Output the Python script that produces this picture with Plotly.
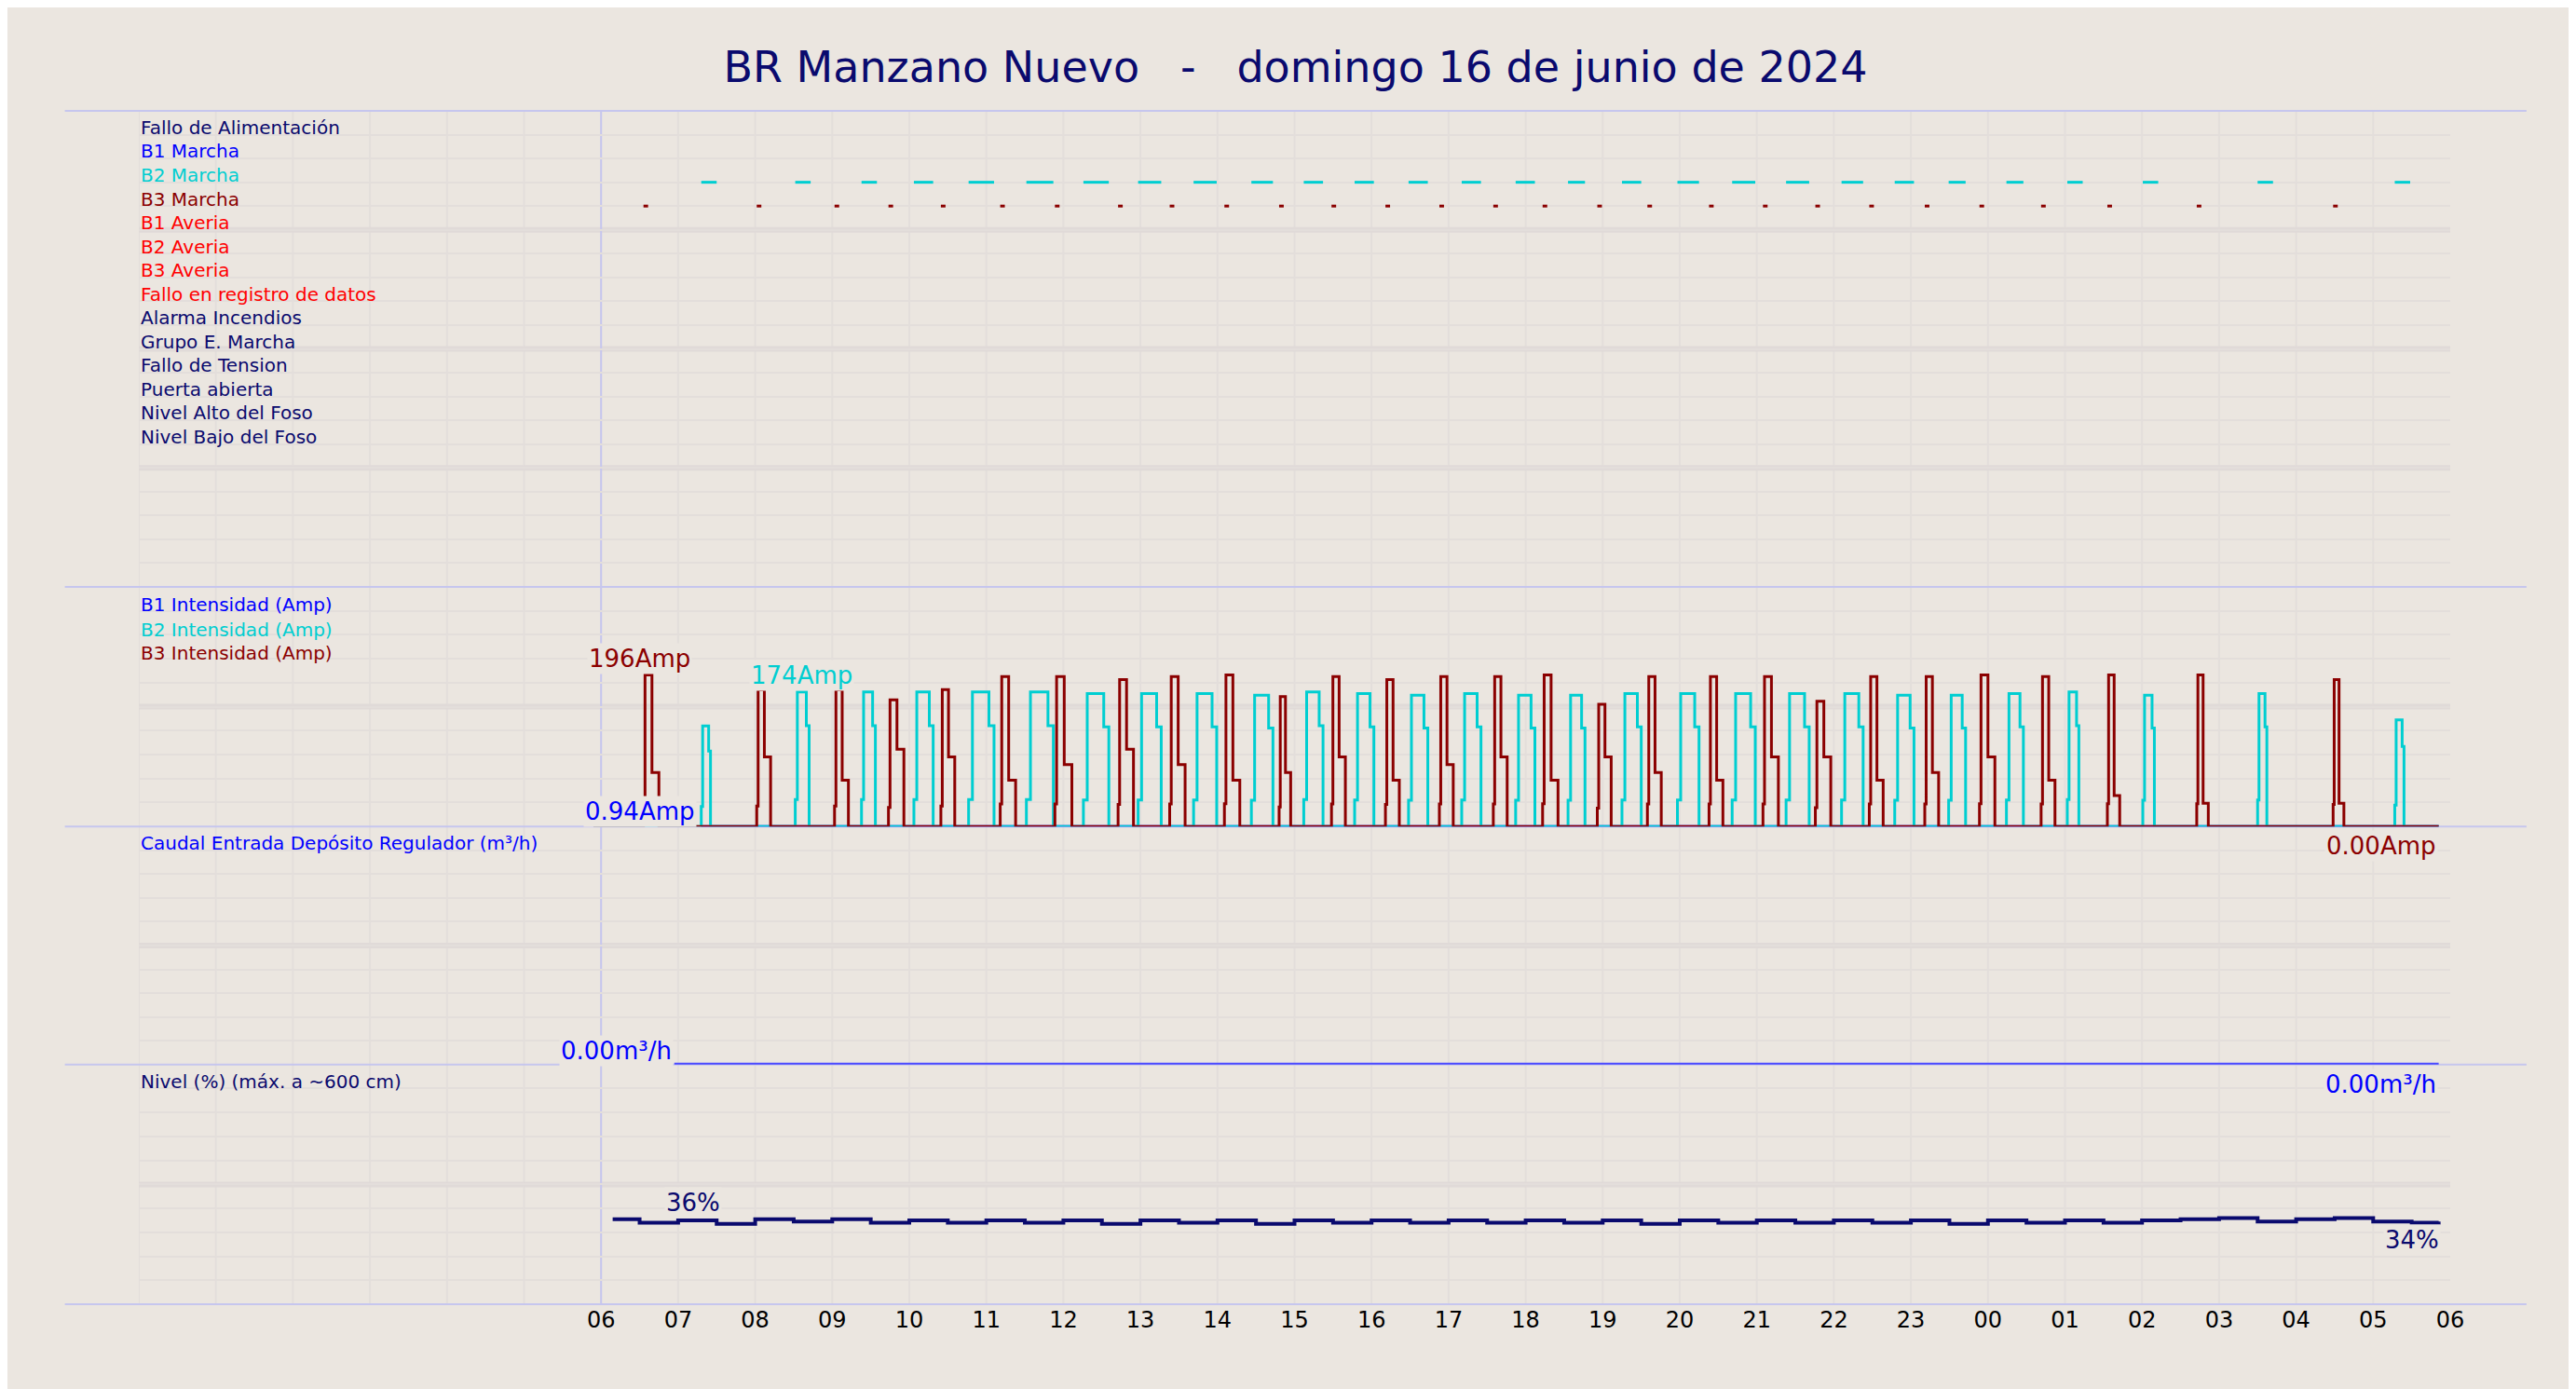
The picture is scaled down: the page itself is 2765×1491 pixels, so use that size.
import plotly.graph_objects as go

# x values are hours from 00:00 on 16 June (30 h shown)
hour_ticks = list(range(6, 31))
hour_labels = ["06", "07", "08", "09", "10", "11", "12", "13", "14", "15", "16", "17", "18",
               "19", "20", "21", "22", "23", "00", "01", "02", "03", "04", "05", "06"]

signal_labels = ["Fallo de Alimentación", "B1 Marcha", "B2 Marcha", "B3 Marcha", "B1 Averia",
                 "B2 Averia", "B3 Averia", "Fallo en registro de datos", "Alarma Incendios",
                 "Grupo E. Marcha", "Fallo de Tension", "Puerta abierta", "Nivel Alto del Foso",
                 "Nivel Bajo del Foso"]
NAVY = "#0a0a6e"
signal_colors = [NAVY, "#0000ff", "#00ced1", "#8b0000", "#ff0000", "#ff0000", "#ff0000",
                 "#ff0000", NAVY, NAVY, NAVY, NAVY, NAVY, NAVY]

# B2 pump cycles: start hour, duration (h), peak current (A)
b2_on = [7.30, 8.52, 9.38, 10.06, 10.77, 11.52, 12.26, 12.97, 13.69, 14.44, 15.12, 15.78, 16.48,
         17.17, 17.87, 18.55, 19.25, 19.97, 20.68, 21.38, 22.10, 22.79, 23.49, 24.24, 25.03,
         26.01, 27.50, 29.28]
b2_dur = [0.12, 0.18, 0.18, 0.25, 0.33, 0.35, 0.33, 0.30, 0.30, 0.28, 0.25, 0.25, 0.25,
          0.25, 0.25, 0.22, 0.25, 0.28, 0.30, 0.30, 0.28, 0.25, 0.22, 0.22, 0.15,
          0.15, 0.12, 0.12]
b2_peak = [130, 174, 174, 174, 174, 174, 172, 172, 172, 170, 174, 172, 170,
           172, 170, 170, 172, 172, 172, 172, 172, 170, 170, 172, 174,
           170, 172, 138]

# B3 pump cycles: start hour, duration (h), peak current (A), tail current (A)
b3_on = [6.55, 8.02, 9.03, 9.73, 10.41, 11.18, 11.89, 12.71, 13.38, 14.09, 14.80, 15.48, 16.18,
         16.88, 17.58, 18.22, 18.93, 19.58, 20.38, 21.08, 21.76, 22.46, 23.18, 23.89, 24.69,
         25.55, 26.71, 28.48]
b3_dur = [0.20, 0.18, 0.18, 0.20, 0.18, 0.20, 0.22, 0.20, 0.20, 0.20, 0.15, 0.18, 0.18,
          0.18, 0.18, 0.20, 0.18, 0.18, 0.18, 0.20, 0.20, 0.18, 0.18, 0.20, 0.18,
          0.16, 0.15, 0.14]
b3_peak = [196, 177, 177, 164, 177, 194, 194, 190, 194, 196, 168, 194, 190,
           194, 194, 196, 158, 194, 194, 194, 162, 194, 194, 196, 194,
           196, 196, 190]
b3_tail = [70, 90, 60, 100, 90, 60, 80, 100, 80, 60, 70, 90, 60,
           80, 90, 60, 90, 70, 60, 90, 90, 60, 70, 90, 60,
           40, 30, 30]

# level (%) every half hour from 06:00
level_x = [6.15, 6.5, 7.0, 7.5, 8.0, 8.5, 9.0, 9.5, 10.0, 10.5, 11.0, 11.5, 12.0, 12.5, 13.0,
           13.5, 14.0, 14.5, 15.0, 15.5, 16.0, 16.5, 17.0, 17.5, 18.0, 18.5, 19.0, 19.5,
           20.0, 20.5, 21.0, 21.5, 22.0, 22.5, 23.0, 23.5, 24.0, 24.5, 25.0, 25.5, 26.0,
           26.5, 27.0, 27.5, 28.0, 28.5, 29.0, 29.5, 29.85]
level_y = [35.5, 34.0, 35.0, 33.5, 35.5, 34.5, 35.5, 34.0, 35.0, 34.0, 35.0, 34.0, 35.0, 33.5,
           35.0, 34.0, 35.0, 33.5, 35.0, 34.0, 35.0, 34.0, 35.0, 34.0, 35.0, 34.0, 35.0,
           33.5, 35.0, 34.0, 35.0, 34.0, 35.0, 34.0, 35.0, 33.5, 35.0, 34.0, 35.0, 34.0,
           35.0, 35.5, 36.0, 34.5, 35.5, 36.0, 34.5, 34.0, 34.5]

flow_x = [6.95, 29.85]
flow_y = [0.0, 0.0]


def step_trace(on, dur, peak, tail=None):
    xs, ys = [5.9], [0]
    for i, t in enumerate(on):
        d = dur[i]
        if tail is None:
            xs += [t, t + d * 0.15, t + d * 0.8, t + d]
            ys += [peak[i] * 0.2, peak[i], peak[i] * 0.75, 0]
        else:
            xs += [t, t + d * 0.1, t + d * 0.55, t + d]
            ys += [peak[i] * 0.15, peak[i], tail[i], 0]
    xs.append(29.85)
    ys.append(0)
    return xs, ys


def segments(on, dur):
    xs = []
    for t, d in zip(on, dur):
        xs += [t, t + d, None]
    return xs


fig = go.Figure()
# status marks in top panel
bx = segments(b2_on, [max(0.2, d) for d in b2_dur])
fig.add_trace(go.Scatter(x=bx, y=[17 if v is not None else None for v in bx], mode="lines",
                         line=dict(color="#00ced1", width=3), yaxis="y"))
bx = segments(b3_on, [0.06] * len(b3_on))
fig.add_trace(go.Scatter(x=bx, y=[16 if v is not None else None for v in bx], mode="lines",
                         line=dict(color="#8b0000", width=3), yaxis="y"))

# currents
fig.add_trace(go.Scatter(x=[7.3, 29.85], y=[0, 0], mode="lines", cliponaxis=False,
                         line=dict(color="#0000ff", width=3), yaxis="y2"))
x2, y2 = step_trace(b2_on, b2_dur, b2_peak)
fig.add_trace(go.Scatter(x=x2, y=y2, mode="lines", line=dict(color="#00ced1", width=3, shape="hv"),
                         yaxis="y2", cliponaxis=False))
x3, y3 = step_trace(b3_on, b3_dur, b3_peak, b3_tail)
fig.add_trace(go.Scatter(x=x3, y=y3, mode="lines", line=dict(color="#8b0000", width=3, shape="hv"),
                         yaxis="y2", cliponaxis=False))

# flow and level
fig.add_trace(go.Scatter(x=flow_x, y=flow_y, mode="lines", line=dict(color="#4a4aff", width=4),
                         yaxis="y3", cliponaxis=False))
fig.add_trace(go.Scatter(x=level_x, y=level_y, mode="lines",
                         line=dict(color=NAVY, width=4, shape="hv"), yaxis="y4"))

BG = "#ebe6e0"
GRID = "#e3dedb"
yax = dict(showticklabels=False, showgrid=True, gridcolor=GRID, gridwidth=2, zeroline=False,
           ticks="", fixedrange=True)
fig.update_layout(
    width=2765, height=1491, showlegend=False,
    paper_bgcolor=BG, plot_bgcolor=BG,
    margin=dict(l=141, r=143, t=111, b=99),
    font=dict(family="DejaVu Sans", color="black"),
    title=dict(text="BR Manzano Nuevo   -   domingo 16 de junio de 2024", x=0.5, y=0.968,
               xanchor="center", font=dict(size=46, color=NAVY)),
    xaxis=dict(range=[0, 30], tickmode="array", tickvals=hour_ticks, ticktext=hour_labels,
               tickfont=dict(size=24), anchor="y4", showgrid=False, zeroline=False,
               ticks="", showline=False),
    yaxis=dict(domain=[0.6011, 1], range=[0, 20], dtick=1, **yax),
    yaxis2=dict(domain=[0.4003, 0.6011], range=[0, 310], dtick=31, **yax),
    yaxis3=dict(domain=[0.2008, 0.4003], range=[0, 10], dtick=1, **yax),
    yaxis4=dict(domain=[0, 0.2008], range=[0, 100], dtick=10, **yax),
)
# vertical hourly grid
for h in range(0, 30):
    fig.add_shape(type="line", xref="x", yref="paper", x0=h, x1=h, y0=0, y1=1,
                  line=dict(color=GRID, width=2), layer="below")

# thicker mid lines
for ref, val in [("y", 15), ("y", 10), ("y", 5), ("y2", 155), ("y3", 5), ("y4", 50)]:
    fig.add_shape(type="line", xref="paper", yref=ref, x0=0, x1=1, y0=val, y1=val,
                  line=dict(color="#e0dad8", width=6), layer="below")

# panel separators and 06:00 marker
for yp in [1.0, 0.6011, 0.4003, 0.2008, 0.0]:
    fig.add_shape(type="line", xref="paper", yref="paper", x0=-0.032, x1=1.033, y0=yp, y1=yp,
                  line=dict(color="#c6c6ee", width=2), layer="below")
fig.add_shape(type="line", xref="x", yref="paper", x0=6, x1=6, y0=0, y1=1,
              line=dict(color="#c6c6ee", width=2), layer="below")

for i, (lab, col) in enumerate(zip(signal_labels, signal_colors)):
    fig.add_annotation(x=0, y=19.3 - i, xref="x", yref="y", text=lab, showarrow=False,
                       xanchor="left", yanchor="middle", font=dict(size=20, color=col))

panel_labels = [
    ("B1 Intensidad (Amp)", "#0000ff", "y2", 287),
    ("B2 Intensidad (Amp)", "#00ced1", "y2", 255),
    ("B3 Intensidad (Amp)", "#8b0000", "y2", 225),
    ("Caudal Entrada Depósito Regulador (m³/h)", "#0000ff", "y3", 9.3),
    ("Nivel (%) (máx. a ~600 cm)", NAVY, "y4", 93),
]
for lab, col, ref, yv in panel_labels:
    fig.add_annotation(x=0, y=yv, xref="x", yref=ref, text=lab, showarrow=False,
                       xanchor="left", yanchor="middle", font=dict(size=20, color=col))

# value labels (y in paper fractions so labels below a panel stay visible)
value_labels = [
    ("196Amp", "#8b0000", 6.5, 0.541),
    ("174Amp", "#00ced1", 8.6, 0.527),
    ("0.94Amp", "#0000ff", 6.5, 0.413),
    ("0.00Amp", "#8b0000", 29.1, 0.384),
    ("0.00m³/h", "#0000ff", 6.2, 0.212),
    ("0.00m³/h", "#0000ff", 29.1, 0.184),
    ("36%", NAVY, 7.2, 0.085),
    ("34%", NAVY, 29.5, 0.054),
]
for lab, col, xv, yv in value_labels:
    fig.add_annotation(x=xv, y=yv, xref="x", yref="paper", text=lab, showarrow=False,
                       xanchor="center", yanchor="middle", font=dict(size=26, color=col),
                       bgcolor=BG)

fig.write_html("out.html")
